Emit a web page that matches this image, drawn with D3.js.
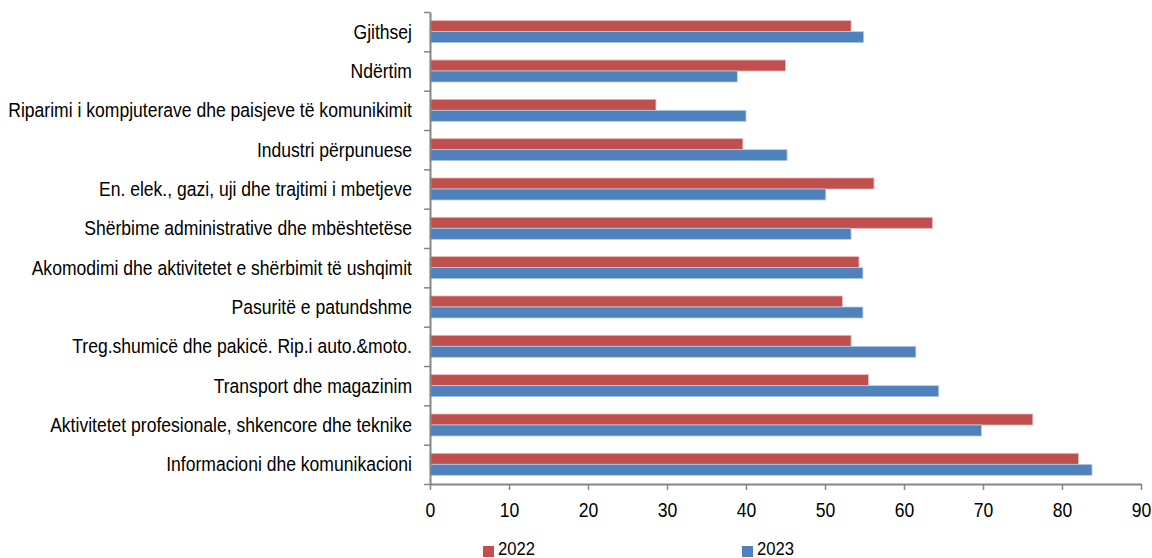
<!DOCTYPE html>
<html>
<head>
<meta charset="utf-8">
<script src="https://cdn.jsdelivr.net/npm/d3@7"></script>
<style>
  body { margin: 0; background: #fff; }
  svg text { font-family: "Liberation Sans", Arial, sans-serif; fill: #000; }
</style>
</head>
<body>
<div class="chart"></div>
<script>
// categories, top to bottom
const categories = [
    "Gjithsej",
    "Ndërtim",
    "Riparimi i kompjuterave dhe paisjeve të komunikimit",
    "Industri përpunuese",
    "En. elek., gazi, uji dhe trajtimi i mbetjeve",
    "Shërbime administrative dhe mbështetëse",
    "Akomodimi dhe aktivitetet e shërbimit të ushqimit",
    "Pasuritë e patundshme",
    "Treg.shumicë dhe pakicë. Rip.i auto.&moto.",
    "Transport dhe magazinim",
    "Aktivitetet profesionale, shkencore dhe teknike",
    "Informacioni dhe komunikacioni"
];
const values2022 = [53.3, 45.0, 28.6, 39.6, 56.2, 63.6, 54.3, 52.2, 53.3, 55.5, 76.3, 82.1];
const values2023 = [54.9, 38.9, 40.0, 45.2, 50.1, 53.3, 54.8, 54.8, 61.5, 64.4, 69.8, 83.8];
const seriesNames = ["2022", "2023"];
const xTicks = [0, 10, 20, 30, 40, 50, 60, 70, 80, 90];

const colors = { "2022": "#C0504D", "2023": "#4F81BD" };
const edges = { "2022": "#E6B9B8", "2023": "#B9CDE5" };

// set size of the chart
const w = 1152, h = 558;
const plot = { left: 430, right: 1141, top: 12, bottom: 484 };
const fontSize = 19.5;
const narrow = "scale(0.9,1)"; // condensed look of the original font

const svg = d3.select("div.chart")
    .append("svg")
    .attr("width", w)
    .attr("height", h);

// scales
const xScale = d3.scaleLinear().domain([0, 90]).range([plot.left, plot.right]);
const yScale = d3.scaleBand().domain(categories).range([plot.top, plot.bottom])
    .paddingInner(0.44).paddingOuter(0.22);
const ySub = d3.scaleBand().domain(seriesNames).range([0, yScale.bandwidth()]);
const yEdge = d3.scaleLinear().domain([0, categories.length]).range([plot.top, plot.bottom]);

// bars
const rows = categories.map((c, i) => ({ cat: c, vals: [values2022[i], values2023[i]] }));
const groups = svg.selectAll("g.row")
    .data(rows)
    .enter()
    .append("g")
    .attr("class", "row")
    .attr("transform", d => "translate(0," + yScale(d.cat) + ")");

groups.selectAll("rect")
    .data(d => d.vals.map((v, k) => ({ name: seriesNames[k], v: v })))
    .enter()
    .append("rect")
    .attr("x", xScale(0))
    .attr("y", d => ySub(d.name))
    .attr("width", d => xScale(d.v) - xScale(0))
    .attr("height", ySub.bandwidth())
    .attr("fill", d => colors[d.name])
    .attr("stroke", d => edges[d.name])
    .attr("stroke-width", 0.8);

// y axis: line and ticks at band edges
const yAxisG = svg.append("g")
    .attr("transform", "translate(" + plot.left + ",0)")
    .call(d3.axisLeft(yEdge).tickValues(d3.range(categories.length + 1)).tickSize(6).tickSizeOuter(0).tickFormat(""));

// category labels
svg.append("g")
    .attr("transform", "translate(" + (plot.left - 18) + ",0)")
    .call(d3.axisLeft(yScale).tickSize(0).tickPadding(0))
    .call(g => g.select(".domain").remove())
    .selectAll("text")
    .attr("font-size", fontSize)
    .attr("dy", "0.36em")
    .attr("transform", narrow);

// x axis
const xAxisG = svg.append("g")
    .attr("transform", "translate(0," + plot.bottom + ")")
    .call(d3.axisBottom(xScale).tickValues(xTicks).tickSize(6).tickSizeOuter(0).tickPadding(13));
xAxisG.selectAll("text").attr("font-size", fontSize).attr("transform", narrow);

[yAxisG, xAxisG].forEach(g => {
    g.select(".domain").attr("stroke", "#868686").attr("stroke-width", 2);
    g.selectAll(".tick line").attr("stroke", "#868686").attr("stroke-width", 1.5);
});

// legend (sits at the very bottom edge, as in the original)
const legendX = { "2022": 483, "2023": 742 };
seriesNames.forEach(name => {
    svg.append("rect")
        .attr("x", legendX[name])
        .attr("y", 546)
        .attr("width", 11)
        .attr("height", 11)
        .attr("fill", colors[name]);
    svg.append("text")
        .attr("transform", "translate(" + (legendX[name] + 15) + ",555) " + narrow)
        .attr("font-size", 18.5)
        .text(name);
});
</script>
</body>
</html>
